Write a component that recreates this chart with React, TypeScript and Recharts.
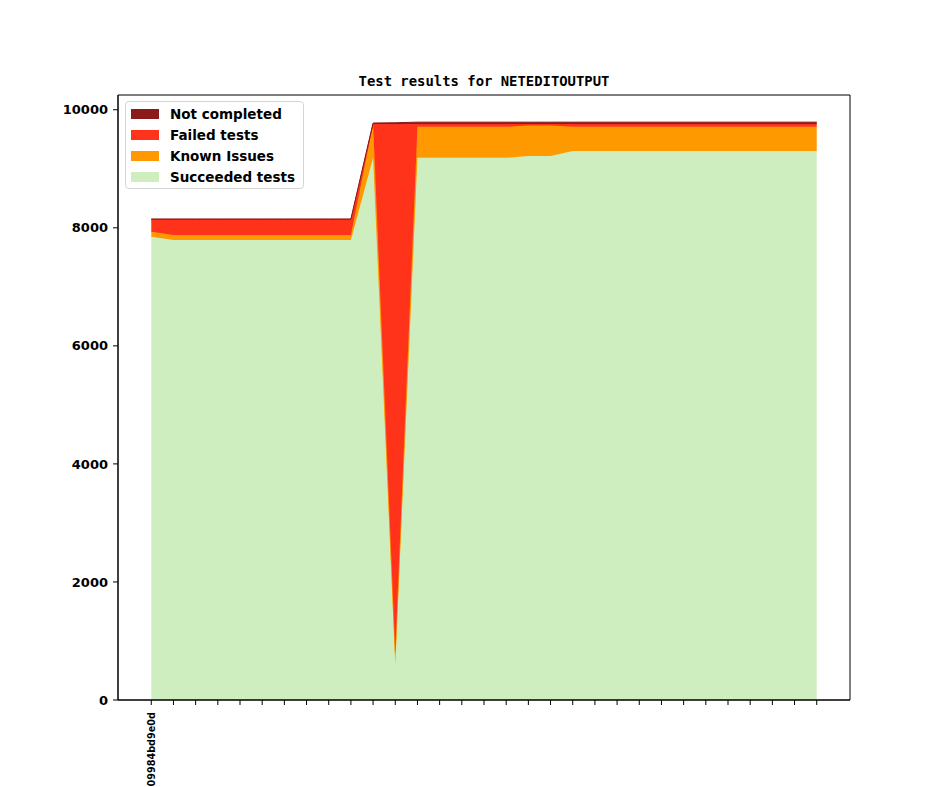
import React from "react";
import { ComposedChart, Area, XAxis, YAxis, Legend, ReferenceArea } from "recharts";

// one entry per commit, only the first one carries a visible label
const commitLabels = [
  "09984bd9e0d", "", "", "", "", "", "", "", "", "", "",
  "", "", "", "", "", "", "", "", "", "",
  "", "", "", "", "", "", "", "", "", "",
];

const succeeded = [
  7850, 7795, 7795, 7795, 7795, 7795, 7795, 7795, 7795, 7795,
  9185, 600, 9185, 9185, 9185, 9185, 9185, 9215, 9215, 9300,
  9300, 9300, 9300, 9300, 9300, 9300, 9300, 9300, 9300, 9300, 9300,
];
const knownIssues = [
  85, 85, 85, 85, 85, 85, 85, 85, 85, 85,
  565, 200, 525, 525, 525, 525, 525, 520, 520, 410,
  410, 410, 410, 410, 410, 410, 410, 410, 410, 410, 410,
];
const failed = [
  200, 255, 255, 255, 255, 255, 255, 255, 255, 255,
  10, 8955, 50, 50, 50, 50, 50, 25, 25, 50,
  50, 50, 50, 50, 50, 50, 50, 50, 50, 50, 50,
];
const notCompleted = [
  15, 15, 15, 15, 15, 15, 15, 15, 15, 15,
  15, 25, 30, 30, 30, 30, 30, 30, 30, 30,
  30, 30, 30, 30, 30, 30, 30, 30, 30, 30, 30,
];

const yTicks = [0, 2000, 4000, 6000, 8000, 10000];
const xDomain: [number, number] = [-1.5, 31.5];
const yDomain: [number, number] = [0, 10250];

// stacking order, bottom to top
const series = [
  { key: "succeeded", name: "Succeeded tests", color: "#cfeec0" },
  { key: "known", name: "Known Issues", color: "#ff9900" },
  { key: "failed", name: "Failed tests", color: "#ff3319" },
  { key: "notCompleted", name: "Not completed", color: "#8b1a1a" },
];

const data = commitLabels.map((label, i) => ({
  idx: i,
  label,
  succeeded: succeeded[i],
  known: knownIssues[i],
  failed: failed[i],
  notCompleted: notCompleted[i],
}));

const FONT = "'DejaVu Sans', sans-serif";

function CommitTick(props: any) {
  const { x, y, payload } = props;
  const text = commitLabels[payload.value] || "";
  return (
    <g transform={`translate(${x},${y})`}>
      <text
        x={-5}
        y={0}
        dy="0.36em"
        transform="rotate(-90)"
        textAnchor="end"
        fontFamily={FONT}
        fontWeight="bold"
        fontSize={9.7}
        fill="#000"
      >
        {text}
      </text>
    </g>
  );
}

function LegendBox() {
  // matplotlib shows the top layer first
  const items = [...series].reverse();
  return (
    <div
      style={{
        boxSizing: "border-box",
        width: 179,
        height: 88,
        border: "1px solid #d4d4d4",
        borderRadius: 4,
        background: "rgba(255,255,255,0.8)",
        padding: "1px 0 0 5px",
        fontFamily: FONT,
        fontWeight: "bold",
        fontSize: 13.5,
        color: "#000",
      }}
    >
      {items.map((it) => (
        <div key={it.key} style={{ display: "flex", alignItems: "center", height: 21 }}>
          <span style={{ display: "inline-block", width: 28, height: 10, background: it.color, marginRight: 11 }} />
          <span>{it.name}</span>
        </div>
      ))}
    </div>
  );
}

export default function App() {
  return (
    <div style={{ position: "absolute", left: 0, top: 0, width: 944, height: 787, background: "#fff" }}>
      <div
        style={{
          position: "absolute",
          left: 0,
          width: 968,
          top: 73,
          textAlign: "center",
          fontFamily: "'DejaVu Sans Mono', monospace",
          fontWeight: "bold",
          fontSize: 13.9,
          lineHeight: "17px",
          color: "#000",
        }}
      >
        Test results for NETEDITOUTPUT
      </div>
      <ComposedChart
        width={944}
        height={787}
        data={data}
        margin={{ top: 95, right: 94, bottom: 0, left: 58 }}
      >
        <XAxis
          dataKey="idx"
          type="number"
          domain={xDomain}
          ticks={commitLabels.map((_, i) => i)}
          interval={0}
          height={87}
          tick={<CommitTick />}
          tickSize={5}
          tickLine={{ stroke: "#000" }}
          axisLine={{ stroke: "#000" }}
          allowDataOverflow
        />
        <YAxis
          type="number"
          domain={yDomain}
          ticks={yTicks}
          width={60}
          tickSize={5}
          tickMargin={5}
          tickLine={{ stroke: "#000" }}
          axisLine={{ stroke: "#000" }}
          tick={{ fill: "#000", fontFamily: FONT, fontWeight: "bold", fontSize: 13 }}
          allowDataOverflow
        />
        {series.map((s) => (
          <Area
            key={s.key}
            type="linear"
            dataKey={s.key}
            name={s.name}
            stackId="1"
            fill={s.color}
            fillOpacity={1}
            stroke={s.color}
            strokeWidth={1}
            dot={false}
            activeDot={false}
            isAnimationActive={false}
          />
        ))}
        {/* axes frame */}
        <ReferenceArea
          x1={xDomain[0]}
          x2={xDomain[1]}
          y1={yDomain[0]}
          y2={yDomain[1]}
          fill="none"
          fillOpacity={0}
          stroke="#000"
          strokeWidth={1}
          ifOverflow="visible"
        />
        <Legend
          layout="horizontal"
          verticalAlign="middle"
          align="center"
          content={<LegendBox />}
          wrapperStyle={{ top: 101, left: 125, width: "auto", height: "auto" }}
        />
      </ComposedChart>
    </div>
  );
}
